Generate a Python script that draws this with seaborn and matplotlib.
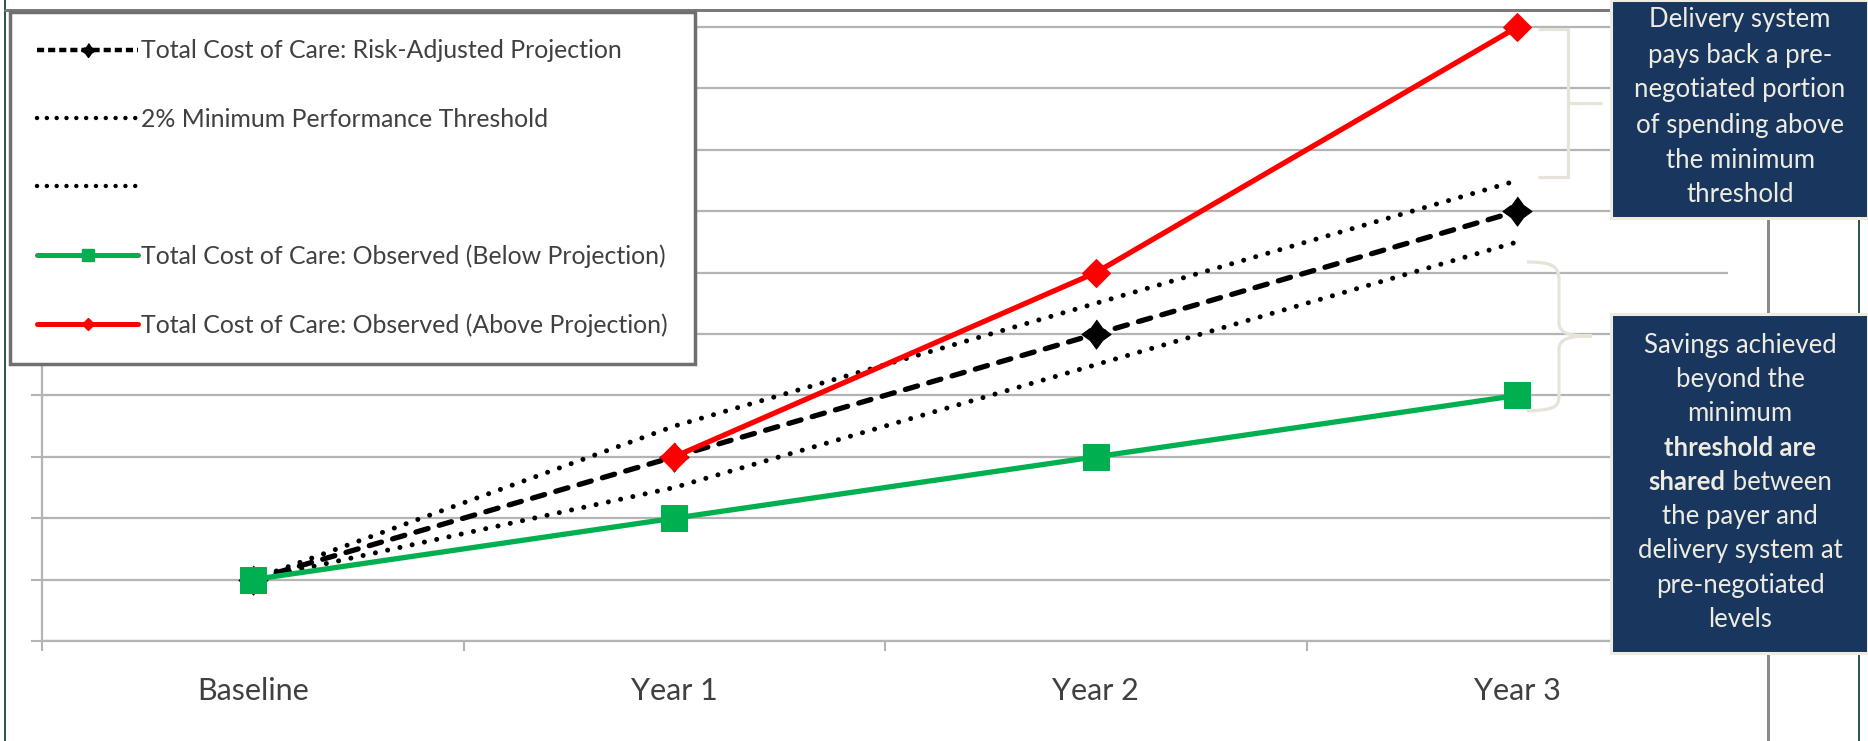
import numpy as np
import pandas as pd
import matplotlib
matplotlib.use("Agg")
import matplotlib.pyplot as plt
from matplotlib.lines import Line2D
from matplotlib.patches import Rectangle, PathPatch
from matplotlib.path import Path
import seaborn as sns

# chart data
categories = ["Baseline", "Year 1", "Year 2", "Year 3"]
projection = [1, 3, 5, 7]
threshold_upper = [1, 3.5, 5.5, 7.5]
threshold_lower = [1, 2.5, 4.5, 6.5]
observed_below = [1, 2, 3, 4]
observed_above = [np.nan, 3, 6, 10]

legend_labels = [
    "Total Cost of Care: Risk-Adjusted Projection",
    "2% Minimum Performance Threshold",
    " ",
    "Total Cost of Care: Observed (Below Projection)",
    "Total Cost of Care: Observed (Above Projection)",
]
box1_lines = ["Delivery system", "pays back a pre-", "negotiated portion",
              "of spending above", "the minimum", "threshold"]
box2_lines = ["Savings achieved", "beyond the", "minimum", "threshold are",
              "shared between", "the payer and", "delivery system at",
              "pre-negotiated", "levels"]

sns.set_style("white")
plt.rcParams["font.family"] = ["Lato", "DejaVu Sans"]

W, H = 1868, 741
fig = plt.figure(figsize=(W / 100, H / 100), dpi=100)


def fx(px):
    return px / W


def fy(py):
    return 1 - py / H


ax = fig.add_axes([fx(42), fy(641), fx(1728) - fx(42), fy(24) - fy(641)])

df = pd.DataFrame({
    "pos": np.arange(len(categories)),
    "projection": projection,
    "upper": threshold_upper,
    "lower": threshold_lower,
    "below": observed_below,
    "above": observed_above,
})

star = [(0, 1), (0.42, 0.42), (1, 0), (0.42, -0.42), (0, -1),
        (-0.42, -0.42), (-1, 0), (-0.42, 0.42)]
dots = (0, (0.01, 2.5))
dash = (0, (2.4, 2.2))

for col in ["upper", "lower"]:
    sns.lineplot(data=df, x="pos", y=col, ax=ax, color="black", lw=3.6,
                 linestyle=dots, dash_capstyle="round", estimator=None,
                 errorbar=None, zorder=3, clip_on=False)
sns.lineplot(data=df, x="pos", y="projection", ax=ax, color="black", lw=3.8,
             linestyle=dash, dash_capstyle="round", marker=star, ms=21,
             mec="black", mfc="black", estimator=None, errorbar=None, zorder=4,
             clip_on=False)
sns.lineplot(data=df, x="pos", y="below", ax=ax, color="#00b050", lw=3.8,
             marker="s", ms=19, mec="#00b050", mfc="#00b050",
             estimator=None, errorbar=None, zorder=5, clip_on=False)
sns.lineplot(data=df.dropna(), x="pos", y="above", ax=ax, color="#ff0000", lw=3.8,
             marker="D", ms=14, mec="#ff0000", mfc="#ff0000",
             estimator=None, errorbar=None, zorder=6, clip_on=False)

ax.set_xlim(-0.5, 3.5)
ax.set_ylim(0, 10.05)
ax.set_xlabel("")
ax.set_ylabel("")
ax.set_xticks(df["pos"], categories)
ax.set_xticks(np.arange(-0.5, 4, 1), minor=True)
ax.set_yticks(np.arange(0, 11))
ax.set_yticklabels([])
grid_c = "#b4b4b4"
ax.tick_params(axis="x", which="major", length=0, pad=26, labelsize=22,
               labelcolor="#404040")
ax.tick_params(axis="x", which="minor", length=7, width=1.5, color=grid_c,
               direction="out", bottom=True)
ax.tick_params(axis="y", length=8, width=1.5, color=grid_c, direction="out", left=True)
ax.grid(axis="y", color=grid_c, lw=1.6)
ax.grid(axis="x", visible=False)
ax.set_axisbelow(True)
for s in ["top", "right"]:
    ax.spines[s].set_visible(False)
for s in ["left", "bottom"]:
    ax.spines[s].set_color(grid_c)
    ax.spines[s].set_linewidth(1.6)

# legend
handles = [
    Line2D([], [], color="black", lw=3.2, linestyle=(0, (1.6, 0.9)), marker=star,
           ms=10, mfc="black", mec="black"),
    Line2D([], [], color="black", lw=3.2, linestyle=(0, (0.01, 2.2)), dash_capstyle="round"),
    Line2D([], [], color="black", lw=3.2, linestyle=(0, (0.01, 2.2)), dash_capstyle="round"),
    Line2D([], [], color="#00b050", lw=3.6, marker="s", ms=9, mfc="#00b050", mec="#00b050"),
    Line2D([], [], color="#ff0000", lw=3.6, marker="D", ms=6.5, mfc="#ff0000", mec="#ff0000"),
]
leg = fig.legend(handles, legend_labels, loc="upper left",
                 bbox_to_anchor=(fx(10), fy(12)), borderaxespad=0,
                 fontsize=17.9, handlelength=4.05, handletextpad=0.12,
                 labelspacing=1.82, borderpad=1.1, fancybox=False,
                 framealpha=1, edgecolor="#6f6f6f")
leg.get_frame().set_linewidth(2.5)
for t in leg.get_texts():
    t.set_color("#404040")

# outer frame lines
frame = [
    ((5, 5), (0, H), "#2e5a45", 2),
    ((1859, 1859), (0, H), "#2e5a45", 2),
    ((1768, 1768), (0, H), "#8a8a8a", 3),
    ((5, 1768), (10, 10), "#7a7a7a", 3),
]
for xs, ys, c, lw in frame:
    fig.add_artist(Line2D([fx(v) for v in xs], [fy(v) for v in ys],
                          color=c, lw=lw * 0.72, zorder=3))

# braces
brace_c = "#e6e4d8"
p1 = Path([(fx(1538), fy(29)), (fx(1568), fy(29)), (fx(1568), fy(177)),
           (fx(1538), fy(177)), (fx(1568), fy(103)), (fx(1602), fy(103))],
          [Path.MOVETO, Path.LINETO, Path.LINETO, Path.LINETO,
           Path.MOVETO, Path.LINETO])
fig.add_artist(PathPatch(p1, fill=False, ec=brace_c, lw=2.3, zorder=4))
pts = [(1527, 262), (1552, 262), (1559, 266), (1559, 280), (1559, 322),
       (1559, 334), (1570, 336), (1592, 336), (1570, 336), (1559, 338),
       (1559, 350), (1559, 396), (1559, 408), (1552, 410), (1527, 411)]
codes = [Path.MOVETO] + [Path.CURVE4] * 3 + [Path.LINETO] + [Path.CURVE4] * 6 + \
        [Path.LINETO] + [Path.CURVE4] * 3
p2 = Path([(fx(a), fy(b)) for a, b in pts], codes)
fig.add_artist(PathPatch(p2, fill=False, ec=brace_c, lw=2.3, zorder=4))

# annotation boxes
navy = "#18365e"
txt_c = "#eeece1"
for x0, y0, x1, y1 in [(1611, 0, 1868, 218), (1611, 314, 1868, 653)]:
    fig.add_artist(Rectangle((fx(x0), fy(y1)), fx(x1) - fx(x0), fy(y0) - fy(y1),
                             fc=navy, ec="#eeece1", lw=2.2, zorder=5))

cx = fx(1740)
fs_box = 18.5
for i, line in enumerate(box1_lines):
    fig.text(cx, fy(20 + i * 35), line, ha="center", va="center",
             color=txt_c, fontsize=fs_box, zorder=6)

renderer = fig.canvas.get_renderer()
for i, line in enumerate(box2_lines):
    yy = fy(345 + i * 34.3)
    if line == "threshold are":
        fig.text(cx, yy, line, ha="center", va="center", color=txt_c,
                 fontsize=fs_box, fontweight="bold", zorder=6)
    elif line == "shared between":
        t1 = fig.text(0, yy, "shared", ha="left", va="center", color=txt_c,
                      fontsize=fs_box, fontweight="bold", zorder=6)
        t2 = fig.text(0, yy, " between", ha="left", va="center", color=txt_c,
                      fontsize=fs_box, zorder=6)
        w1 = t1.get_window_extent(renderer).width / W
        w2 = t2.get_window_extent(renderer).width / W
        left = cx - (w1 + w2) / 2
        t1.set_x(left)
        t2.set_x(left + w1)
    else:
        fig.text(cx, yy, line, ha="center", va="center", color=txt_c,
                 fontsize=fs_box, zorder=6)

fig.savefig("out.png", dpi=100)
